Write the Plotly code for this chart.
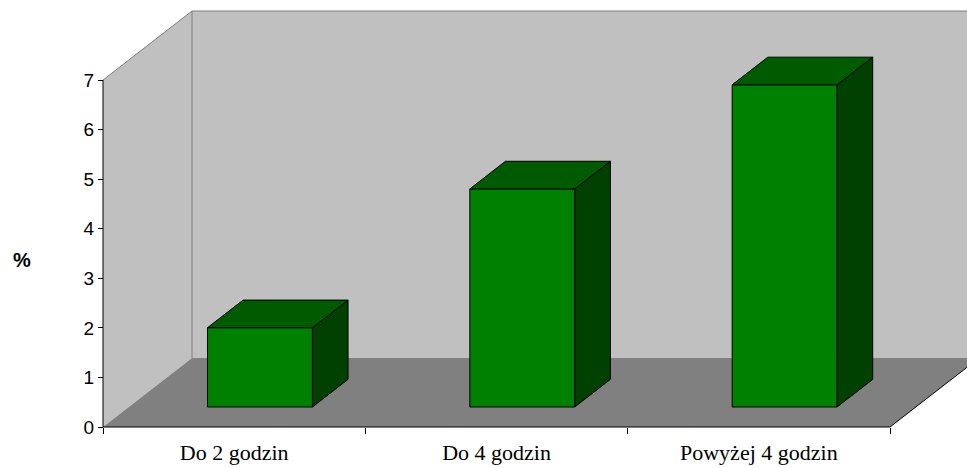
import plotly.graph_objects as go

# ---- data -------------------------------------------------------------
categories = ["Do 2 godzin", "Do 4 godzin", "Powyżej 4 godzin"]
values = [1.6, 4.4, 6.5]
y_ticks = [0, 1, 2, 3, 4, 5, 6, 7]

# ---- canvas / projection constants ------------------------------------
W, H = 967, 468
PX_X_LEFT, PX_X_RIGHT = 103, 890      # pixel of x=-0.5 and x=2.5
PX_Y_ZERO, PX_Y_TOP = 427, 80         # pixel of y=0 and y=7
DEPTH_PX = (89, 69)                   # oblique depth offset of the floor (px)

n = len(categories)
x_scale = (PX_X_RIGHT - PX_X_LEFT) / n          # px per category
y_scale = (PX_Y_ZERO - PX_Y_TOP) / y_ticks[-1]  # px per unit
DX = DEPTH_PX[0] / x_scale
DY = DEPTH_PX[1] / y_scale

x_range = [-0.5 - PX_X_LEFT / x_scale, -0.5 + (W - PX_X_LEFT) / x_scale]
y_range = [-(H - PX_Y_ZERO) / y_scale, PX_Y_ZERO / y_scale]

BAR_W = 0.4
F_FRONT, F_BACK = 0.29, 0.69          # depth fractions of bar front/back faces
dd = F_BACK - F_FRONT
base = F_FRONT * DY

FRONT, TOP, SIDE = "#008000", "#005a00", "#004000"
WALL, FLOOR, EDGE = "#c0c0c0", "#808080", "#808080"

fig = go.Figure()

# front faces of the columns
fig.add_trace(go.Bar(
    x=list(range(n)), y=values, base=base, width=BAR_W,
    offset=-BAR_W / 2 + F_FRONT * DX,
    marker=dict(color=FRONT, line=dict(color="black", width=1)),
    xaxis="x", yaxis="y", hoverinfo="skip",
))

# side and top faces (drawn on the overlay axis so they sit above the bars)
side_x, side_y, top_x, top_y = [], [], [], []
for i, v in enumerate(values):
    x0 = i - BAR_W / 2 + F_FRONT * DX
    x1 = x0 + BAR_W
    yt = base + v
    side_x += [x1, x1, x1 + dd * DX, x1 + dd * DX, x1, None]
    side_y += [base, yt, yt + dd * DY, base + dd * DY, base, None]
    top_x += [x0, x1, x1 + dd * DX, x0 + dd * DX, x0, None]
    top_y += [yt, yt, yt + dd * DY, yt + dd * DY, yt, None]

fig.add_trace(go.Scatter(x=side_x, y=side_y, mode="lines", fill="toself",
                         fillcolor=SIDE, line=dict(color="black", width=1),
                         xaxis="x2", yaxis="y", hoverinfo="skip"))
fig.add_trace(go.Scatter(x=top_x, y=top_y, mode="lines", fill="toself",
                         fillcolor=TOP, line=dict(color="black", width=1),
                         xaxis="x2", yaxis="y", hoverinfo="skip"))

# walls and floor of the 3-D box
xl, xr, ytop = -0.5, n - 0.5, y_ticks[-1]
shapes = [
    dict(type="path", layer="below", xref="x", yref="y",
         path=f"M {xl},0 L {xl},{ytop} L {xl+DX},{ytop+DY} L {xl+DX},{DY} Z",
         fillcolor=WALL, line=dict(width=0)),
    dict(type="rect", layer="below", xref="x", yref="y",
         x0=xl + DX, x1=xr + DX + 1, y0=DY, y1=ytop + DY,
         fillcolor=WALL, line=dict(width=0)),
    dict(type="path", layer="below", xref="x", yref="y",
         path=f"M {xl},0 L {xr},0 L {xr+DX},{DY} L {xl+DX},{DY} Z",
         fillcolor=FLOOR, line=dict(width=0)),
]
for (ax, ay, bx, by, c) in [
    (xl, ytop, xl + DX, ytop + DY, EDGE),
    (xl + DX, DY, xl + DX, ytop + DY, EDGE),
    (xl + DX, ytop + DY, xr + DX + 1, ytop + DY, EDGE),
    (xl, 0, xl, ytop, "black"),
    (xl, 0, xr, 0, "black"),
    (xr, 0, xr + DX, DY, "black"),
]:
    shapes.append(dict(type="line", layer="below", xref="x", yref="y",
                       x0=ax, y0=ay, x1=bx, y1=by,
                       line=dict(color=c, width=1)))

axis_y_pos = (H - PX_Y_ZERO) / H

fig.update_layout(
    width=W, height=H,
    margin=dict(l=0, r=0, t=0, b=0),
    paper_bgcolor="white", plot_bgcolor="white",
    showlegend=False,
    shapes=shapes,
    xaxis=dict(range=x_range, domain=[0, 1], anchor="free", position=axis_y_pos,
               tickvals=[i - 0.5 for i in range(n + 1)], ticks="outside",
               ticklen=6, tickcolor="black", showticklabels=False,
               showgrid=False, zeroline=False, showline=False, fixedrange=True),
    xaxis2=dict(range=x_range, overlaying="x", anchor="free", position=axis_y_pos,
                tickvals=list(range(n)), ticktext=categories, ticks="",
                ticklabelstandoff=10,
                tickfont=dict(family="Liberation Serif", size=22, color="black"),
                showgrid=False, zeroline=False, showline=False, fixedrange=True),
    yaxis=dict(range=y_range, domain=[0, 1], anchor="free",
               position=PX_X_LEFT / W, tickvals=y_ticks, ticks="outside",
               ticklen=5, tickcolor="black",
               tickfont=dict(family="Liberation Sans", size=19, color="black"),
               showgrid=False, zeroline=False, showline=False, fixedrange=True),
    annotations=[dict(text="<b>%</b>", xref="paper", yref="paper",
                      x=22 / W, y=1 - 260 / H, xanchor="center", yanchor="middle",
                      showarrow=False,
                      font=dict(family="Liberation Sans", size=20, color="black"))],
)

fig.write_html("out.html", config={"displayModeBar": False})
